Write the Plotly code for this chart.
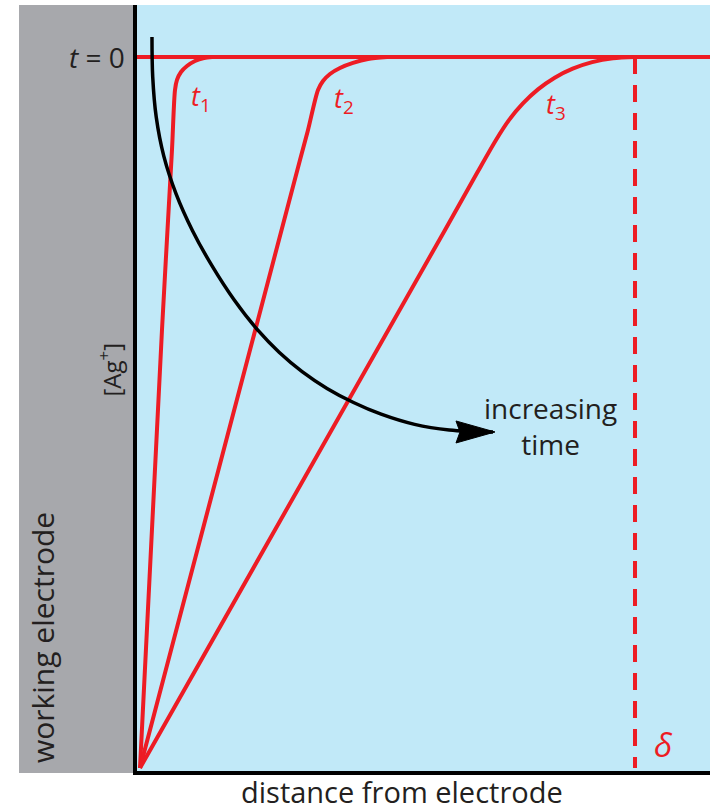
import plotly.graph_objects as go

# ---- data (distance: electrode = 0, diffusion-layer edge delta = 1; [Ag+]: surface 0, bulk 1)
bulk_x = [-0.01, 1.20]
bulk_y = [1.0, 1.0]

t1_x = [0.0, 0.0444, 0.0646, 0.0707, 0.0747, 0.0828, 0.0949, 0.1111, 0.1293, 0.1455]
t1_y = [0.0, 0.6160, 0.8692, 0.9536, 0.9677, 0.9789, 0.9873, 0.9944, 0.9986, 1.0]

t2_x = [0.0, 0.3232, 0.3394, 0.3596, 0.3697, 0.3838, 0.4040, 0.4303, 0.4606, 0.4990]
t2_y = [0.0, 0.8551, 0.8973, 0.9536, 0.9662, 0.9761, 0.9845, 0.9916, 0.9972, 1.0]

t3_x = [0.0, 0.6162, 0.6808, 0.7192, 0.7446, 0.7731, 0.8040, 0.8378, 0.8741, 0.9135, 0.9554, 1.0]
t3_y = [0.0, 0.7567, 0.8368, 0.8833, 0.9105, 0.9343, 0.9544, 0.9708, 0.9835, 0.9927, 0.9982, 1.0]

delta_x = [1.0, 1.0]
delta_y = [1.0, 0.0]

arrow_x = [0.0242, 0.0257, 0.0327, 0.0481, 0.0731, 0.1061, 0.1453, 0.1893, 0.2390,
           0.2810, 0.3275, 0.3778, 0.4313, 0.4871, 0.5547, 0.6246, 0.7131]
arrow_y = [1.0281, 0.9719, 0.9159, 0.8606, 0.8072, 0.7557, 0.7065, 0.6593, 0.6150,
           0.5847, 0.5575, 0.5339, 0.5141, 0.4976, 0.4833, 0.4755, 0.4726]

curve_labels = ["<i>t</i><sub>1</sub>", "<i>t</i><sub>2</sub>", "<i>t</i><sub>3</sub>"]

RED = "#ED1C24"
INK = "#231F20"
BLUE = "#C1E9F8"
GRAY = "#A7A8AC"
FONT = "Open Sans"

fig = go.Figure()

fig.add_trace(go.Scatter(x=bulk_x, y=bulk_y, mode="lines", line=dict(color=RED, width=4),
                         hoverinfo="skip"))
for xs, ys in [(t1_x, t1_y), (t2_x, t2_y), (t3_x, t3_y)]:
    fig.add_trace(go.Scatter(x=xs, y=ys, mode="lines",
                             line=dict(color=RED, width=4, shape="spline", smoothing=0.8),
                             hoverinfo="skip"))
fig.add_trace(go.Scatter(x=delta_x, y=delta_y, mode="lines",
                         line=dict(color=RED, width=4, dash="17px,11px"), hoverinfo="skip"))
fig.add_trace(go.Scatter(x=arrow_x, y=arrow_y, mode="lines",
                         line=dict(color="black", width=3.5, shape="spline", smoothing=1.0),
                         hoverinfo="skip"))

# gray working-electrode panel
fig.add_shape(type="rect", xref="paper", yref="paper", x0=-0.2059, x1=0.0, y0=-0.0026, y1=1.0,
              fillcolor=GRAY, line_width=0, layer="below")

# arrowhead at the end of the arrow curve
fig.add_shape(type="path", xref="x", yref="y", xsizemode="pixel", ysizemode="pixel",
              xanchor=arrow_x[-1], yanchor=arrow_y[-1],
              path="M 2,0 L -37,11 L -33,0 L -37,-11 Z",
              fillcolor="black", line=dict(color="black", width=1))

ann = []
ann.append(dict(x=0, xref="paper", y=bulk_y[0], yref="y", text="<i>t</i> = 0",
                xanchor="right", yanchor="middle", xshift=-10, showarrow=False,
                font=dict(size=28, color=INK, family=FONT)))
for lab, xs, ys, idx, dx, dy in [(curve_labels[0], t1_x, t1_y, 3, 26, -8),
                                  (curve_labels[1], t2_x, t2_y, 3, 26, -10),
                                  (curve_labels[2], t3_x, t3_y, 6, 18, -16)]:
    ann.append(dict(x=xs[idx], y=ys[idx], xref="x", yref="y", text=lab, showarrow=False,
                    xanchor="center", yanchor="middle", xshift=dx, yshift=dy,
                    font=dict(size=27, color=RED, family=FONT)))
ann.append(dict(x=delta_x[1], y=delta_y[1], xref="x", yref="y", text="<i>δ</i>", showarrow=False,
                xanchor="center", yanchor="middle", xshift=28, yshift=24,
                font=dict(size=33, color=RED, family=FONT)))
ann.append(dict(x=arrow_x[-1], y=arrow_y[-1], xref="x", yref="y", text="increasing<br>time",
                showarrow=False, xanchor="center", yanchor="middle", xshift=58, yshift=6,
                font=dict(size=28, color=INK, family=FONT)))
ann.append(dict(x=-0.048, y=0.5248, xref="paper", yref="paper", text="[Ag<sup>+</sup>]",
                textangle=-90, showarrow=False, xanchor="center", yanchor="middle",
                font=dict(size=24, color=INK, family=FONT)))
ann.append(dict(x=-0.1658, y=0.1749, xref="paper", yref="paper", text="working electrode",
                textangle=-90, showarrow=False, xanchor="center", yanchor="middle",
                font=dict(size=30, color=INK, family=FONT)))
ann.append(dict(x=0.4625, y=-0.027, xref="paper", yref="paper", text="distance from electrode",
                showarrow=False, xanchor="center", yanchor="middle",
                font=dict(size=29, color=INK, family=FONT)))

fig.update_layout(
    width=710, height=811, autosize=False,
    margin=dict(l=137, r=0, t=5, b=40, pad=0),
    paper_bgcolor="white", plot_bgcolor=BLUE,
    showlegend=False,
    annotations=ann,
    xaxis=dict(range=[-0.00606, 1.1515], showgrid=False, zeroline=False, showticklabels=False,
               ticks="", showline=True, linecolor="black", linewidth=3.5, fixedrange=True),
    yaxis=dict(range=[-0.00422, 1.0731], showgrid=False, zeroline=False, showticklabels=False,
               ticks="", showline=True, linecolor="black", linewidth=3.5, fixedrange=True),
)

fig.write_html("out.html", config={"displayModeBar": False},
               post_script="document.body.style.margin='0';document.body.style.overflow='hidden';")
